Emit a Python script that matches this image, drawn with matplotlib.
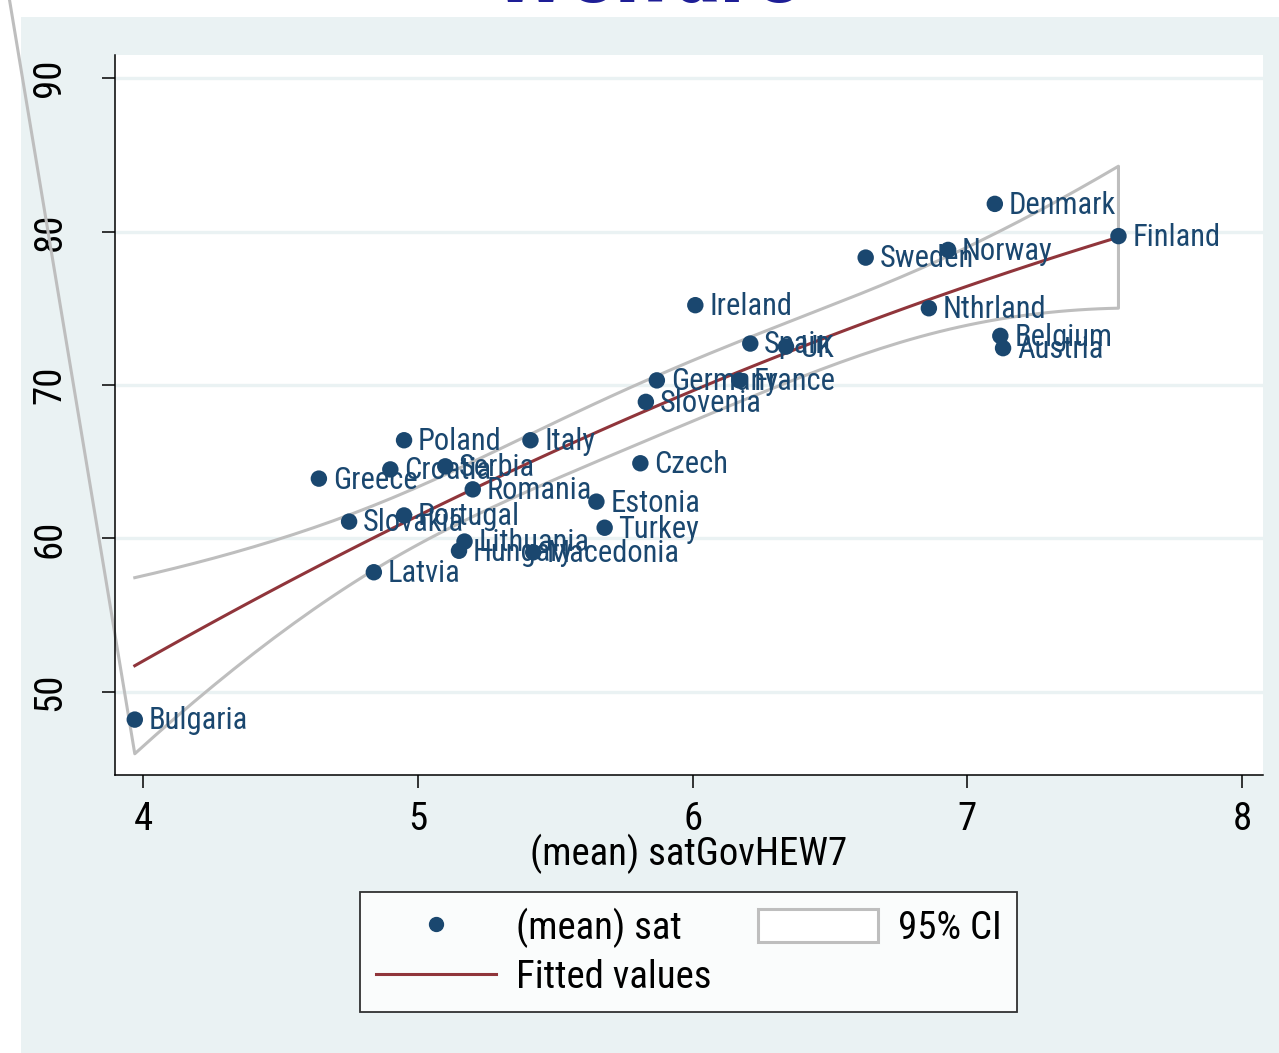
import numpy as np
import matplotlib
matplotlib.use("Agg")
import matplotlib.pyplot as plt
from matplotlib.patches import Rectangle, Patch
from matplotlib.lines import Line2D

plt.rcParams['font.family'] = ['Roboto Condensed', 'Liberation Sans', 'DejaVu Sans']

# Country means: x = (mean) satGovHEW7, y = (mean) sat
countries = ["Denmark", "Finland", "Sweden", "Norway", "Ireland", "Nthrland",
             "Belgium", "Austria", "Spain", "UK", "Germany", "France",
             "Slovenia", "Poland", "Italy", "Croatia", "Serbia", "Greece",
             "Czech", "Romania", "Estonia", "Slovakia", "Portugal", "Turkey",
             "Lithuania", "Hungary", "Macedonia", "Latvia", "Bulgaria"]
sat_gov = [7.10, 7.55, 6.63, 6.93, 6.01, 6.86,
           7.12, 7.13, 6.21, 6.34, 5.87, 6.17,
           5.83, 4.95, 5.41, 4.90, 5.10, 4.64,
           5.81, 5.20, 5.65, 4.75, 4.95, 5.68,
           5.17, 5.15, 5.42, 4.84, 3.97]
sat_mean = [81.8, 79.7, 78.3, 78.8, 75.2, 75.0,
            73.2, 72.4, 72.7, 72.5, 70.3, 70.3,
            68.9, 66.4, 66.4, 64.5, 64.7, 63.9,
            64.9, 63.2, 62.4, 61.1, 61.5, 60.7,
            59.8, 59.2, 59.1, 57.8, 48.2]

# Stray closing vertex of the CI outline
ci_tail_x = [3.19]
ci_tail_y = [130.0]

x_ticks = [4, 5, 6, 7, 8]
y_ticks = [50, 60, 70, 80, 90]

NAVY = "#1A476F"
MAROON = "#90353B"
CI_GRAY = "#BEBEBE"
BG = "#EAF2F3"

x = np.asarray(sat_gov, float)
y = np.asarray(sat_mean, float)
n = len(x)

# Quadratic fit with 95% CI of the mean prediction over the range of x
X = np.column_stack([np.ones(n), x, x ** 2])
beta, *_ = np.linalg.lstsq(X, y, rcond=None)
resid = y - X @ beta
s2 = np.sum(resid ** 2) / (n - 3)
cov = s2 * np.linalg.inv(X.T @ X)
t_crit = 2.0555  # t(0.975, 26)
xs = np.linspace(x.min(), x.max(), 100)
Xs = np.column_stack([np.ones_like(xs), xs, xs ** 2])
fit = Xs @ beta
half = t_crit * np.sqrt(np.einsum("ij,jk,ik->i", Xs, cov, Xs))
upper = fit + half
lower = fit - half

fig = plt.figure(figsize=(12.79, 10.53), dpi=100)
fig.patch.set_facecolor("white")
fig.add_artist(Rectangle((21 / 1279, 0), 1, 1 - 17 / 1053, transform=fig.transFigure,
                         facecolor=BG, edgecolor="none", zorder=-10))

fig.text(0.5063, 1 - 2 / 1053, "Welfare", ha="center", va="baseline",
         fontsize=72, fontweight="bold", color="#1E1E96")

ax = fig.add_axes([115 / 1279, 1 - 775 / 1053, (1263 - 115) / 1279, (775 - 55) / 1053])
ax.set_facecolor("white")
ax.set_xlim(3.898, 8.076)
ax.set_ylim(44.59, 91.5)

for sp in ["top", "right"]:
    ax.spines[sp].set_visible(False)
for sp in ["left", "bottom"]:
    ax.spines[sp].set_linewidth(1.1)
    ax.spines[sp].set_color("black")

ax.set_xticks(x_ticks)
ax.set_yticks(y_ticks)
ax.tick_params(axis="both", direction="out", length=9.5, width=1.1, labelsize=28,
               colors="black")
ax.tick_params(axis="x", pad=9)
ax.tick_params(axis="y", pad=24)
for lab in ax.get_yticklabels():
    lab.set_rotation(90)
    lab.set_va("center")
ax.yaxis.grid(True, color=BG, linewidth=2.4)
ax.set_axisbelow(True)

# CI outline: upper bound, right edge, lower bound back, stray vertex
ci_x = np.concatenate([xs, xs[::-1], ci_tail_x])
ci_y = np.concatenate([upper, lower[::-1], ci_tail_y])
ax.plot(ci_x, ci_y, color=CI_GRAY, linewidth=2.2, clip_on=False, zorder=2)

ax.plot(xs, fit, color=MAROON, linewidth=2.2, zorder=3)

ax.scatter(x, y, s=140, color=NAVY, edgecolors="none", zorder=4)
for name, xi, yi in zip(countries, x, y):
    ax.annotate(name, (xi, yi), xytext=(10, -1), textcoords="offset points",
                ha="left", va="center", fontsize=22, color=NAVY, zorder=5)

ax.set_xlabel("(mean) satGovHEW7", fontsize=28, labelpad=-3)

handles = [
    Line2D([], [], marker="o", linestyle="none", color=NAVY, markersize=10),
    Line2D([], [], color=MAROON, linewidth=2.2),
    Patch(facecolor="white", edgecolor=CI_GRAY, linewidth=2.2),
]
labels = ["(mean) sat", "Fitted values", "95% CI"]
leg = fig.legend(handles, labels, loc="center",
                 bbox_to_anchor=(688.5 / 1279, 1 - 952 / 1053), ncol=2,
                 fontsize=28, frameon=True, fancybox=False, edgecolor="black",
                 handlelength=3.1, handleheight=0.9, handletextpad=0.5,
                 columnspacing=1.2, labelspacing=0.28, borderpad=0.4,
                 borderaxespad=0)
leg.get_frame().set_linewidth(1.3)
leg.get_frame().set_facecolor("white")

fig.savefig("out.png", dpi=100, facecolor=fig.get_facecolor())
